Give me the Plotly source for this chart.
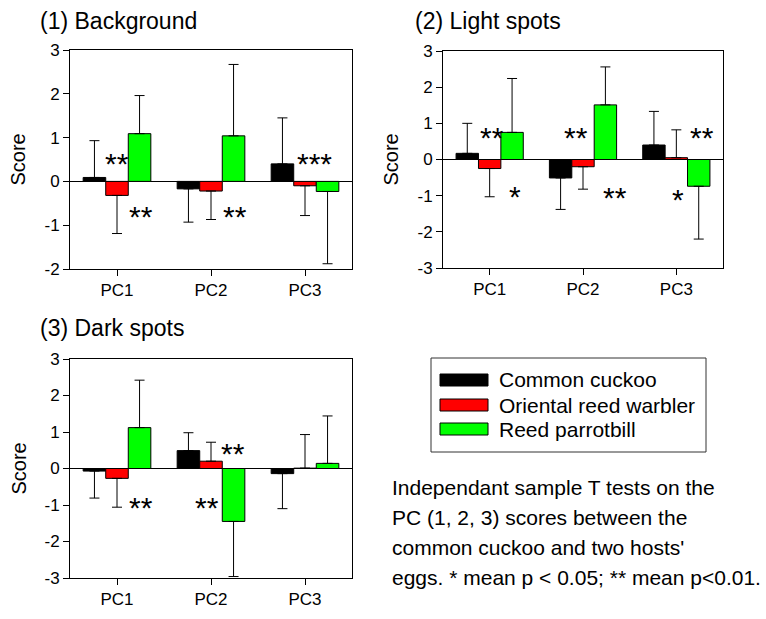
import plotly.graph_objects as go

# ---------------- data ----------------
categories = ["PC1", "PC2", "PC3"]
series_names = ["Common cuckoo", "Oriental reed warbler", "Reed parrotbill"]
series_colors = ["#000000", "#ff0000", "#00ff00"]

panel_titles = ["(1) Background", "(2) Light spots", "(3) Dark spots"]

# y tick labels (hyphen minus as in the original)
yticks_bg = [-2, -1, 0, 1, 2, 3]
yticks_spots = [-3, -2, -1, 0, 1, 2, 3]

# panel 1: Background
bg_cuckoo = [0.09, -0.17, 0.40]
bg_warbler = [-0.32, -0.22, -0.10]
bg_parrotbill = [1.09, 1.04, -0.23]
bg_cuckoo_sd = [0.84, 0.76, 1.05]
bg_warbler_sd = [0.87, 0.65, 0.68]
bg_parrotbill_sd = [0.87, 1.63, 1.65]

# panel 2: Light spots
ls_cuckoo = [0.17, -0.51, 0.40]
ls_warbler = [-0.25, -0.20, 0.05]
ls_parrotbill = [0.75, 1.51, -0.74]
ls_cuckoo_sd = [0.83, 0.87, 0.93]
ls_warbler_sd = [0.78, 0.62, 0.77]
ls_parrotbill_sd = [1.49, 1.05, 1.46]

# panel 3: Dark spots
ds_cuckoo = [-0.07, 0.49, -0.14]
ds_warbler = [-0.27, 0.20, 0.01]
ds_parrotbill = [1.12, -1.45, 0.14]
ds_cuckoo_sd = [0.74, 0.49, 0.96]
ds_warbler_sd = [0.79, 0.52, 0.92]
ds_parrotbill_sd = [1.30, 1.51, 1.30]

# significance marks
sig_panel = [0, 0, 0, 0, 1, 1, 1, 1, 1, 1, 2, 2, 2]
sig_x = [0.0, 0.26, 1.25, 2.1, 0.02, 0.27, 0.93, 1.34, 2.27, 2.02, 0.26, 1.23, 0.96]
sig_y = [0.57, -0.65, -0.65, 0.57, 0.80, -0.83, 0.80, -0.87, 0.80, -0.90, -0.87, 0.61, -0.89]
sig_text = ["**", "**", "**", "***", "**", "*", "**", "**", "**", "*", "**", "**", "**"]

footnote_lines = [
    "Independant sample T tests on the",
    "PC (1, 2, 3) scores between the",
    "common cuckoo and two hosts'",
    "eggs. * mean p < 0.05; ** mean p<0.01.",
]

panels = [
    ([bg_cuckoo, bg_warbler, bg_parrotbill], [bg_cuckoo_sd, bg_warbler_sd, bg_parrotbill_sd], yticks_bg),
    ([ls_cuckoo, ls_warbler, ls_parrotbill], [ls_cuckoo_sd, ls_warbler_sd, ls_parrotbill_sd], yticks_spots),
    ([ds_cuckoo, ds_warbler, ds_parrotbill], [ds_cuckoo_sd, ds_warbler_sd, ds_parrotbill_sd], yticks_spots),
]

# ---------------- layout geometry ----------------
W, H = 766, 619
FONT = "Liberation Sans, Arial, sans-serif"

def px_x(p):
    return p / W

def px_y(p):
    return 1 - p / H

domains = [
    ([px_x(70), px_x(352)], [px_y(269), px_y(50)]),
    ([px_x(443), px_x(723)], [px_y(268), px_y(51)]),
    ([px_x(70), px_x(352)], [px_y(578), px_y(359)]),
]
title_pos = [(38, 21), (413, 21), (38, 328)]
score_x = [18, 391, 18]

fig = go.Figure()
xnum = list(range(len(categories)))

for i, (vals, sds, yt) in enumerate(panels):
    xa = "x" if i == 0 else f"x{i+1}"
    ya = "y" if i == 0 else f"y{i+1}"
    for s in range(3):
        v = vals[s]
        sd = sds[s]
        plus = [e if val >= 0 else 0 for val, e in zip(v, sd)]
        minus = [e if val < 0 else 0 for val, e in zip(v, sd)]
        fig.add_trace(go.Bar(
            x=xnum, y=v, name=series_names[s], showlegend=False,
            marker=dict(color=series_colors[s], line=dict(color="black", width=1)),
            error_y=dict(type="data", symmetric=False, array=plus, arrayminus=minus,
                         color="black", thickness=1, width=5),
            xaxis=xa, yaxis=ya, offsetgroup=str(s),
        ))
    xd, yd = domains[i]
    axis_common = dict(showline=True, mirror=True, linecolor="black", linewidth=1,
                       showgrid=False, ticks="outside", ticklen=6, tickcolor="black",
                       automargin=False,
                       tickfont=dict(family=FONT, size=17, color="black"))
    fig.layout[("xaxis" if i == 0 else f"xaxis{i+1}")] = dict(
        domain=xd, range=[-0.5, 2.5], tickvals=xnum, ticktext=categories,
        zeroline=False, anchor=ya, **axis_common)
    fig.layout[("yaxis" if i == 0 else f"yaxis{i+1}")] = dict(
        domain=yd, range=[min(yt), max(yt)], tickvals=yt,
        ticktext=[str(t) for t in yt], zeroline=True, zerolinecolor="black",
        zerolinewidth=1, anchor=xa, **axis_common)
    tx, ty = title_pos[i]
    fig.add_annotation(text=panel_titles[i], xref="paper", yref="paper",
                       x=px_x(tx), y=px_y(ty), xanchor="left", yanchor="middle",
                       showarrow=False, font=dict(family=FONT, size=23, color="black"))
    fig.add_annotation(text="Score", xref="paper", yref="paper", textangle=-90,
                       x=px_x(score_x[i]), y=(yd[0] + yd[1]) / 2,
                       xanchor="center", yanchor="middle", showarrow=False,
                       font=dict(family=FONT, size=20, color="black"))

# significance asterisks
for p, x, y, t in zip(sig_panel, sig_x, sig_y, sig_text):
    xa = "x" if p == 0 else f"x{p+1}"
    ya = "y" if p == 0 else f"y{p+1}"
    fig.add_annotation(text=t, x=x, y=y, xref=xa, yref=ya, showarrow=False,
                       xanchor="center", yanchor="middle", yshift=-7,
                       font=dict(family=FONT, size=30, color="black"))

# custom legend box
lx0, ly0, lx1, ly1 = 431, 358, 706, 452
fig.add_shape(type="rect", xref="paper", yref="paper",
              x0=px_x(lx0), x1=px_x(lx1), y0=px_y(ly1), y1=px_y(ly0),
              line=dict(color="#333333", width=1), fillcolor="white")
row_y = [380, 405, 429]
for s in range(3):
    fig.add_shape(type="rect", xref="paper", yref="paper",
                  x0=px_x(440), x1=px_x(488), y0=px_y(row_y[s] + 6), y1=px_y(row_y[s] - 6),
                  line=dict(color="black", width=1), fillcolor=series_colors[s])
    fig.add_annotation(text=series_names[s], xref="paper", yref="paper",
                       x=px_x(497), y=px_y(row_y[s]), xanchor="left", yanchor="middle",
                       showarrow=False, font=dict(family=FONT, size=21, color="black"))

# footnote
for k, line in enumerate(footnote_lines):
    fig.add_annotation(text=line, xref="paper", yref="paper",
                       x=px_x(390), y=px_y(487 + 30 * k), xanchor="left", yanchor="middle",
                       showarrow=False, font=dict(family=FONT, size=21, color="black"))

fig.update_layout(
    width=W, height=H, margin=dict(l=0, r=0, t=0, b=0),
    paper_bgcolor="white", plot_bgcolor="white",
    barmode="group", bargap=0.28, bargroupgap=0,
    showlegend=False,
)

post = (
    "var d=document.getElementById('{plot_id}');"
    "d.style.position='fixed';d.style.top='0px';d.style.left='0px';"
    "document.body.style.margin='0px';"
    "document.documentElement.style.overflow='hidden';"
    "document.body.style.overflow='hidden';"
)
fig.write_html("out.html", config={"displayModeBar": False}, post_script=post)
